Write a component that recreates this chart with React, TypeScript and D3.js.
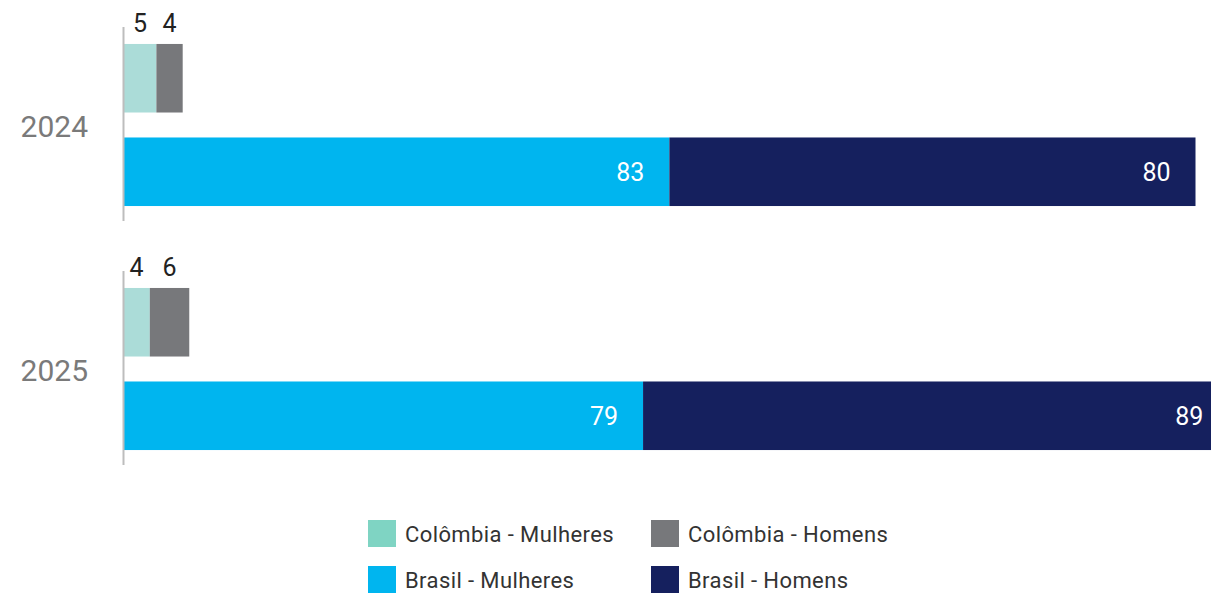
import React from "react";
import * as d3 from "d3";

const years = ["2024", "2025"];
const countries = ["Colômbia", "Brasil"];
const colombiaMulheres = [5, 4];
const colombiaHomens = [4, 6];
const brasilMulheres = [83, 79];
const brasilHomens = [80, 89];

const seriesNames = [
  "Colômbia - Mulheres",
  "Colômbia - Homens",
  "Brasil - Mulheres",
  "Brasil - Homens",
];
const barColors = ["#abdcd8", "#77787b", "#00b5ef", "#15205e"];
const legendColors = ["#7fd4c3", "#77787b", "#00b5ef", "#15205e"];

const W = 1211;
const H = 594;
const FONT = "Roboto, 'DejaVu Sans', sans-serif";

type Row = { year: string; country: string; mulheres: number; homens: number };

const rows: Row[] = [];
years.forEach((y, i) => {
  rows.push({ year: y, country: countries[0], mulheres: colombiaMulheres[i], homens: colombiaHomens[i] });
  rows.push({ year: y, country: countries[1], mulheres: brasilMulheres[i], homens: brasilHomens[i] });
});

const App: React.FC = () => {
  const x = d3.scaleLinear().domain([0, 163]).range([123.5, 1195.5]);

  // outer band per year (axis line spans it), inner band per country
  const yOuter = d3.scaleBand<string>().domain(years).range([27, 465]).paddingInner(0.205).paddingOuter(0);
  const yInner = d3.scaleBand<string>().domain(countries).range([2, yOuter.bandwidth()]).paddingInner(0.267).paddingOuter(0.16);

  const stack = d3.stack<Row>().keys(["mulheres", "homens"]);
  const stacked = stack(rows);

  const rowY = (r: Row) => (yOuter(r.year) ?? 0) + (yInner(r.country) ?? 0);
  const bh = yInner.bandwidth();

  return (
    <div style={{ position: "absolute", left: 0, top: 0 }}>
      <svg width={W} height={H} style={{ display: "block", overflow: "hidden" }}>
        {/* bars */}
        {stacked.map((layer, li) =>
          layer.map((d, ri) => {
            const r = rows[ri];
            const ci = countries.indexOf(r.country);
            return (
              <rect
                key={`${li}-${ri}`}
                x={x(d[0])}
                y={rowY(r)}
                width={x(d[1]) - x(d[0])}
                height={bh}
                fill={barColors[ci * 2 + li]}
              />
            );
          })
        )}

        {/* value labels */}
        {stacked.map((layer, li) =>
          layer.map((d, ri) => {
            const r = rows[ri];
            const v = d[1] - d[0];
            if (r.country === "Brasil") {
              return (
                <text
                  key={`l${li}-${ri}`}
                  x={x(d[1]) - 25}
                  y={rowY(r) + bh / 2}
                  dy="0.36em"
                  textAnchor="end"
                  fill="#fff"
                  fontFamily={FONT}
                  fontSize={25}
                >
                  {v}
                </text>
              );
            }
            return (
              <text
                key={`l${li}-${ri}`}
                x={(x(d[0]) + x(d[1])) / 2}
                y={rowY(r) - 12}
                textAnchor="middle"
                fill="#222"
                fontFamily={FONT}
                fontSize={25}
              >
                {v}
              </text>
            );
          })
        )}

        {/* axis lines and year labels */}
        {years.map((y) => {
          const top = yOuter(y) ?? 0;
          return (
            <g key={y}>
              <line
                x1={x(0)}
                x2={x(0)}
                y1={top}
                y2={top + yOuter.bandwidth()}
                stroke="#bdbdbd"
                strokeWidth={2}
              />
              <text
                x={88}
                y={top + yOuter.bandwidth() / 2 + 2}
                dy="0.36em"
                textAnchor="end"
                fill="#7a7a7a"
                fontFamily={FONT}
                fontSize={30}
              >
                {y}
              </text>
            </g>
          );
        })}

        {/* legend */}
        {seriesNames.map((name, i) => {
          const col = i % 2;
          const row = Math.floor(i / 2);
          const lx = col === 0 ? 368 : 651;
          const ly = 520 + row * 46;
          return (
            <g key={name} transform={`translate(${lx},${ly})`}>
              <rect width={28} height={27} fill={legendColors[i]} />
              <text x={37} y={22} fill="#333" fontFamily={FONT} fontSize={22} letterSpacing={0.4}>
                {name}
              </text>
            </g>
          );
        })}
      </svg>
    </div>
  );
};

export default App;
